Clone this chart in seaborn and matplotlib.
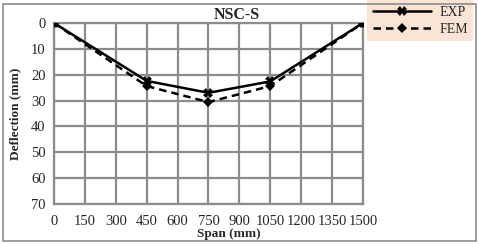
import matplotlib
matplotlib.use('Agg')
import matplotlib.pyplot as plt
import seaborn as sns
import pandas as pd
from matplotlib.patches import Rectangle

# data
span = [0, 450, 750, 1050, 1500]
exp_defl = [0, 22.4, 27.0, 22.6, 0]
fem_defl = [0, 24.4, 30.6, 24.4, 0]
x_ticks = [0, 150, 300, 450, 600, 750, 900, 1050, 1200, 1350, 1500]
y_ticks = [0, 10, 20, 30, 40, 50, 60, 70]

df = pd.DataFrame({'span': span * 2,
                   'deflection': exp_defl + fem_defl,
                   'series': ['EXP'] * len(span) + ['FEM'] * len(span)})

sns.set_style('white')
plt.rcParams['font.family'] = ['Liberation Serif', 'DejaVu Serif']

fig = plt.figure(figsize=(4.79, 2.44), dpi=100)
ax = fig.add_axes([0.1127, 0.164, 0.6451, 0.7418])

grid_col = '#8c8c8c'

# EXP - solid with x markers
sns.lineplot(data=df[df.series == 'EXP'], x='span', y='deflection', ax=ax,
             color='black', linewidth=1.8, marker='X', markersize=7,
             markeredgewidth=0, label='EXP', zorder=3)
# FEM - dashed with diamond markers
sns.lineplot(data=df[df.series == 'FEM'], x='span', y='deflection', ax=ax,
             color='black', linewidth=1.8, marker='D', markersize=5,
             markeredgewidth=0, label='FEM', zorder=3)
ax.lines[1].set_dashes([3, 2])

ax.set_xlim(0, 1500)
ax.set_ylim(70, 0)
ax.set_xticks(x_ticks)
ax.set_yticks(y_ticks)
ax.grid(True, color=grid_col, linewidth=1.6)
for s in ax.spines.values():
    s.set_color(grid_col)
    s.set_linewidth(1.6)
ax.tick_params(axis='both', labelsize=10.5, length=3, color=grid_col, pad=3)
ax.tick_params(axis='x', length=0, pad=8)

ax.set_xlabel('Span (mm)', fontsize=9.5, fontweight='bold')
ax.xaxis.set_label_coords(0.566, -0.135)
ax.set_ylabel('Deflection (mm)', fontsize=9.5, fontweight='bold')
ax.yaxis.set_label_coords(-0.105, 0.5)
ax.set_title('NSC-S', fontsize=11.5, fontweight='bold', x=0.59, y=1.0, pad=3)

leg = ax.legend(loc='upper left', bbox_to_anchor=(367 / 479, 1.0),
                bbox_transform=fig.transFigure, borderaxespad=0,
                frameon=True, fontsize=10, handlelength=4.2, handletextpad=0.6,
                borderpad=0.4, labelspacing=0.3, fancybox=False,
                edgecolor='none', facecolor='#fbe4d5', framealpha=1)

# outer chart border
fig.patches.append(Rectangle((3 / 479, 3 / 244), 473 / 479, 237 / 244,
                             transform=fig.transFigure, fill=False,
                             edgecolor='#8c8c8c', linewidth=1.2))

fig.savefig('out.png', dpi=100)
